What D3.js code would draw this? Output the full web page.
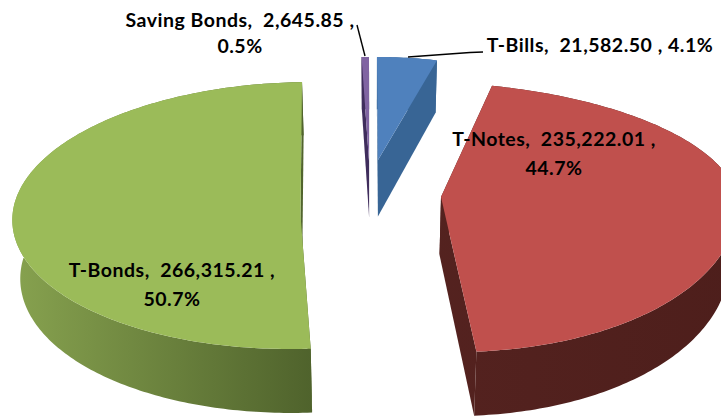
<!DOCTYPE html>
<html lang="en">

<head>
    <meta charset="UTF-8" />
    <script src="https://d3js.org/d3.v7.min.js"></script>
    <title>Debt by instrument, exploded 3D pie</title>
    <style>
        html, body { margin: 0; padding: 0; background: #fff; overflow: hidden; }
        text { font-family: Lato, "Open Sans", sans-serif; font-weight: 700; font-size: 19.5px; letter-spacing: 0.5px; fill: #000; }
    </style>
</head>

<body>
    <script>
        // slice order runs clockwise from 12 o'clock, same as the source chart
        var categories = ["T-Bills", "T-Notes", "T-Bonds", "Saving Bonds"];
        var values = [21582.50, 235222.01, 266315.21, 2645.85];

        var width = 721, height = 418;

        var topColors = ["#4f81bd", "#c0504d", "#9bbb59", "#8064a2"];
        var wallLeft = ["#386595", "#5a2623", "#87a24f", "#3f2d5c"];
        var wallRight = ["#386595", "#4d1e1b", "#4c5f2a", "#3f2d5c"];

        // where each exploded slice lands on the page, the picture has perspective
        // so back and front half get their own radius and lean
        var layout = [
            { cx: 378, cy: 160, rx: 235, back: 103, front: 103, leanB: 0.01, leanF: 0 },
            { cx: 441, cy: 197, rx: 296, back: 115, front: 155, leanB: 0.22, leanF: 0.09 },
            { cx: 300.5, cy: 215, rx: 288, back: 133, front: 134, leanB: -0.08, leanF: -0.08 },
            { cx: 369, cy: 161, rx: 235, back: 104, front: 104, leanB: 0, leanF: 0 }
        ];

        var svg = d3.select("body").append("svg")
            .attr("width", width)
            .attr("height", height)
            .style("display", "block");

        var defs = svg.append("defs");
        categories.forEach(function (c, i) {
            var g = defs.append("linearGradient")
                .attr("id", "wall" + i)
                .attr("gradientUnits", "userSpaceOnUse")
                .attr("x1", layout[i].cx - layout[i].rx).attr("x2", layout[i].cx + layout[i].rx * 0.1 + (i == 1 ? layout[i].rx : 0))
                .attr("y1", 0).attr("y2", 0);
            g.append("stop").attr("offset", 0).attr("stop-color", wallLeft[i]);
            g.append("stop").attr("offset", 1).attr("stop-color", wallRight[i]);
        });

        var pieData = d3.pie().sort(null)(values);
        var total = d3.sum(values);
        var fmtValue = d3.format(",.2f");
        var fmtPct = d3.format(".1%");

        function project(s, a) {
            var c = Math.cos(a);
            var dy = c > 0 ? -s.back * c : -s.front * c;
            var lean = dy < 0 ? s.leanB : s.leanF;
            return [s.cx + s.rx * Math.sin(a) + lean * dy, s.cy + dy];
        }

        // side walls get a little taller towards the viewer and pull in to the middle
        function drop(p) {
            return [p[0] - 0.022 * (p[0] - 374), p[1] + 50 + 0.04 * p[1]];
        }

        var line = d3.line();

        var slices = svg.append("g").selectAll("g").data(pieData).enter().append("g");

        slices.each(function (d, i) {
            var s = layout[i];
            var n = Math.max(2, Math.ceil((d.endAngle - d.startAngle) * 60));
            var arc = d3.range(n + 1).map(function (k) {
                return project(s, d.startAngle + (d.endAngle - d.startAngle) * k / n);
            });
            var apex = [s.cx, s.cy];
            var g = d3.select(this);
            var wallFill = "url(#wall" + i + ")";

            // outer wall
            g.append("path")
                .attr("d", line(arc.concat(arc.map(drop).reverse())) + "Z")
                .attr("fill", wallFill);

            // the two cut walls
            [arc[0], arc[n]].forEach(function (p) {
                g.append("path")
                    .attr("d", line([apex, p, drop(p), drop(apex)]) + "Z")
                    .attr("fill", wallFill);
            });

            g.append("path")
                .attr("d", line([apex].concat(arc)) + "Z")
                .attr("fill", topColors[i]);
        });

        // leader lines
        var leaders = [
            [[357, 25], [365, 56]],
            [[483, 52], [470, 52.5], [408, 57]]
        ];
        svg.append("g").selectAll("path").data(leaders).enter().append("path")
            .attr("d", line)
            .attr("fill", "none")
            .attr("stroke", "#000")
            .attr("stroke-width", 1.4);

        function labelHead(i) {
            return categories[i] + ",\u00a0\u00a0" + fmtValue(values[i]) + " ,";
        }
        function labelPct(i) {
            return fmtPct(values[i] / total);
        }

        var labels = [
            { x: 240, y: 27, text: labelHead(3) },
            { x: 240, y: 53, text: labelPct(3) },
            { x: 600, y: 52, text: labelHead(0) + " " + labelPct(0) },
            { x: 554, y: 146, text: labelHead(1) },
            { x: 554, y: 175, text: labelPct(1) },
            { x: 172, y: 277, text: labelHead(2) },
            { x: 172, y: 306, text: labelPct(2) }
        ];
        svg.append("g").selectAll("text").data(labels).enter().append("text")
            .attr("x", function (d) { return d.x; })
            .attr("y", function (d) { return d.y; })
            .attr("text-anchor", "middle")
            .text(function (d) { return d.text; });
    </script>
</body>

</html>
